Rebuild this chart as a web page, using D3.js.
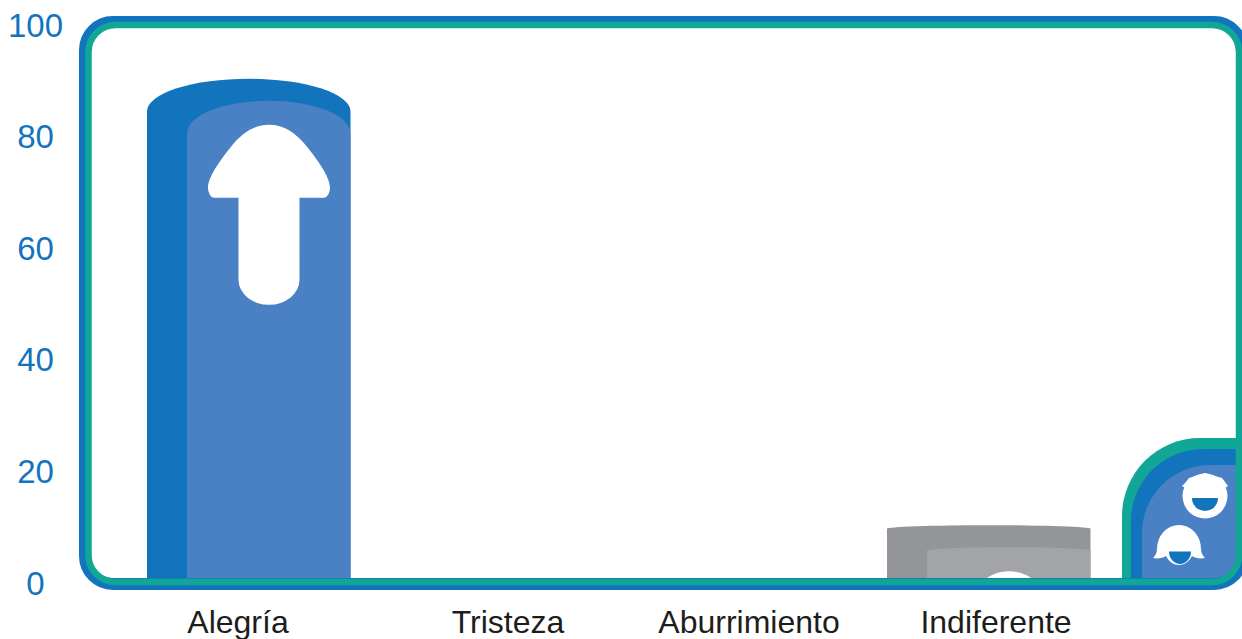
<!DOCTYPE html>
<html>
<head>
<meta charset="UTF-8">
<script src="https://d3js.org/d3.v7.min.js"></script>
<style>
  html, body { margin: 0; padding: 0; background: #fff; overflow: hidden; }
  text { font-family: "Liberation Sans", Arial, sans-serif; }
</style>
</head>
<body>
<div id="chart"></div>
<script>
  var categories = ["Alegría", "Tristeza", "Aburrimiento", "Indiferente"];
  var values = [90, 0, 0, 10];
  var yTicks = [0, 20, 40, 60, 80, 100];

  var width = 1242, height = 639;
  var blue = "#1174bd", lightBlue = "#4a80c4", teal = "#11a797";
  var grey = "#939598", lightGrey = "#a2a4a7", ink = "#1d1d1b";

  var svg = d3.select("#chart").append("svg")
      .attr("width", width)
      .attr("height", height)
      .style("display", "block");

  var y = d3.scaleLinear().domain([0, 100]).range([581, 23]);

  var x = d3.scaleBand()
      .domain(categories)
      .range([147, 1090.5])
      .paddingInner(0.175)
      .paddingOuter(0);

  // the labels don't sit under the bars in the original, they drift a bit
  var labelX = d3.scaleOrdinal().domain(categories).range([238, 508, 749, 996]);

  // everything inside the frame gets cut at the frame's centre line
  svg.append("clipPath").attr("id", "inside")
    .append("rect")
      .attr("x", 88.5).attr("y", 25)
      .attr("width", 1150.5).attr("height", 557)
      .attr("rx", 27);

  var inner = svg.append("g").attr("clip-path", "url(#inside)");

  // cylinder top: cap height follows the bar height
  function barPath(x0, x1, top, cap, base) {
    var rx = (x1 - x0) / 2;
    return "M" + x0 + "," + base + "V" + (top + cap) +
      "A" + rx + "," + cap + " 0 0 1 " + x1 + "," + (top + cap) +
      "V" + base + "Z";
  }

  var arrow = "M0,0C-15,0 -27,8 -38,22C-47,33 -61,52 -61,63C-61,68 -58,73 -55,73H-30.5V155" +
    "A30.5,25 0 0 0 30.5,155V73H55C58,73 61,68 61,63C61,52 47,33 38,22C27,8 15,0 0,0Z";

  var data = categories.map(function(c, i) { return { name: c, value: values[i] }; })
      .filter(function(d) { return d.value > 0; });

  var bars = inner.selectAll("g.bar")
      .data(data)
      .enter().append("g")
      .attr("class", "bar");

  bars.append("path")
      .attr("fill", function(d) { return d.value > 50 ? blue : grey; })
      .attr("d", function(d) {
        var h = y(0) - y(d.value);
        return barPath(x(d.name), x(d.name) + x.bandwidth(), y(d.value), h * 0.065, y(0));
      });

  bars.append("path")
      .attr("fill", function(d) { return d.value > 50 ? lightBlue : lightGrey; })
      .attr("d", function(d) {
        var h = y(0) - y(d.value);
        return barPath(x(d.name) + 40, x(d.name) + x.bandwidth(), y(d.value) + 22, h * 0.065, y(0));
      });

  bars.append("path")
      .attr("fill", "#fff")
      .attr("d", arrow)
      .attr("transform", function(d) {
        return "translate(" + (x(d.name) + 122) + "," + (y(d.value) + 46) + ")";
      });

  // legend corner
  var legend = inner.append("g");
  legend.append("path").attr("fill", teal).attr("d", "M1122,600V516A78,78 0 0 1 1200,438H1250V600Z");
  legend.append("path").attr("fill", blue).attr("d", "M1131,600V521A72,72 0 0 1 1203,449H1250V600Z");
  legend.append("path").attr("fill", lightBlue).attr("d", "M1142,600V533A68,68 0 0 1 1210,465H1250V600Z");

  // upper face
  legend.append("circle").attr("cx", 1205).attr("cy", 496).attr("r", 22.5).attr("fill", "#fff");
  legend.append("path").attr("fill", "#fff")
      .attr("d", "M1182,486C1185,483 1187,481 1189,478L1205,473L1222,478C1224,481 1226,483 1228,486L1222,490H1188Z");
  legend.append("path").attr("fill", blue).attr("d", "M1192,498A13,13 0 0 0 1218,498Z");

  // lower face
  legend.append("path").attr("fill", "#fff")
      .attr("d", "M1157,549A22,24 0 0 1 1201,549C1201,553 1203,556 1205,558C1200,559 1195,558 1192,556" +
        "C1189,562 1184,565 1179,565C1174,565 1169,562 1166,556C1163,558 1158,559 1153,558" +
        "C1155,556 1157,553 1157,549Z");
  legend.append("path").attr("fill", blue).attr("d", "M1169,551.5A11,12.5 0 0 0 1191,551.5Z");

  // frame goes on top of the bars
  svg.append("rect")
      .attr("x", 85).attr("y", 22)
      .attr("width", 1157).attr("height", 562)
      .attr("rx", 28)
      .attr("fill", "none").attr("stroke", blue).attr("stroke-width", 12);
  svg.append("rect")
      .attr("x", 88.5).attr("y", 25)
      .attr("width", 1150.5).attr("height", 557)
      .attr("rx", 27)
      .attr("fill", "none").attr("stroke", teal).attr("stroke-width", 6.5);

  // y axis
  var yAxis = svg.append("g")
      .attr("transform", "translate(35.5,0)")
      .call(d3.axisLeft(y).tickValues(yTicks).tickSize(0).tickPadding(0));
  yAxis.select(".domain").remove();
  yAxis.selectAll("text")
      .attr("x", 0)
      .attr("dy", 13)
      .attr("text-anchor", "middle")
      .attr("fill", blue)
      .style("font-size", "33px")
      .style("font-family", "'Liberation Sans', Arial, sans-serif");

  // category labels
  svg.selectAll("text.cat")
      .data(categories)
      .enter().append("text")
      .attr("class", "cat")
      .attr("x", function(d) { return labelX(d); })
      .attr("y", 633)
      .attr("text-anchor", "middle")
      .attr("fill", ink)
      .style("font-size", "32px")
      .text(function(d) { return d; });
</script>
</body>
</html>
